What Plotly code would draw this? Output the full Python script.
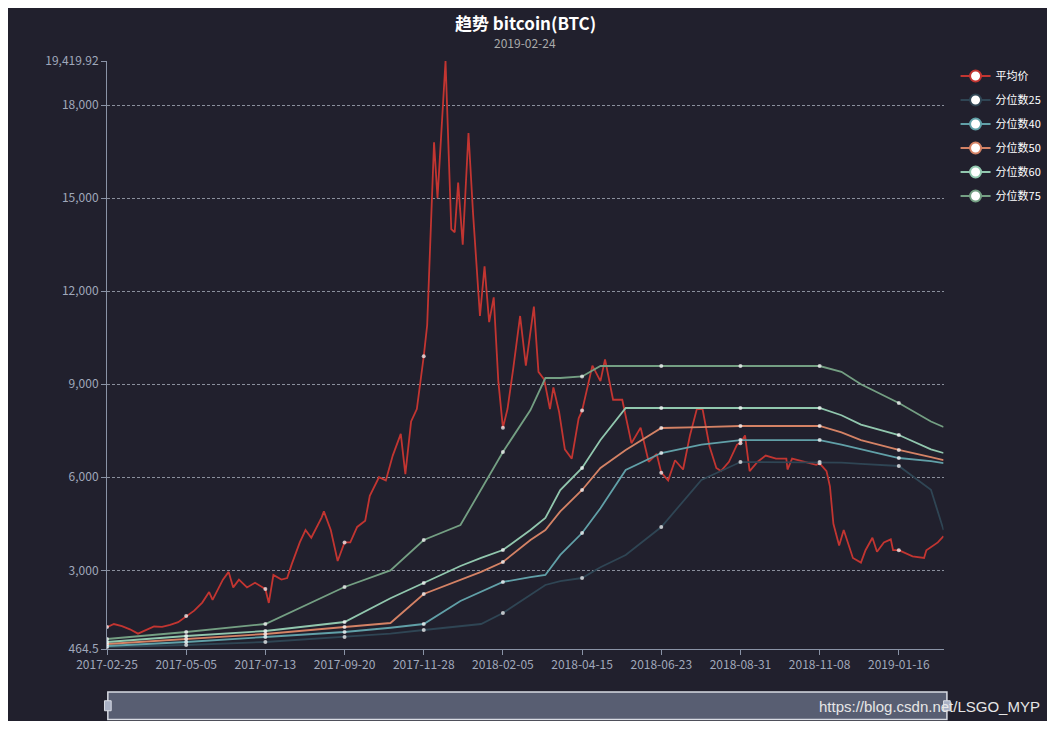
import plotly.graph_objects as go

# 平均价 (daily average price)
price_dates = [
    "2017-02-25", "2017-03-03", "2017-03-10", "2017-03-17", "2017-03-24", "2017-03-31", "2017-04-07",
    "2017-04-14", "2017-04-21", "2017-04-28", "2017-05-05", "2017-05-12", "2017-05-19", "2017-05-25",
    "2017-05-28", "2017-06-06", "2017-06-11", "2017-06-15", "2017-06-20", "2017-06-27", "2017-07-04",
    "2017-07-13", "2017-07-16", "2017-07-20", "2017-07-27", "2017-08-01", "2017-08-05", "2017-08-12",
    "2017-08-17", "2017-08-22", "2017-08-31", "2017-09-02", "2017-09-08", "2017-09-14", "2017-09-20",
    "2017-09-25", "2017-10-01", "2017-10-08", "2017-10-12", "2017-10-20", "2017-10-26", "2017-11-01",
    "2017-11-08", "2017-11-12", "2017-11-17", "2017-11-22", "2017-11-28", "2017-12-01", "2017-12-07",
    "2017-12-10", "2017-12-17", "2017-12-22", "2017-12-25", "2017-12-28", "2018-01-01", "2018-01-06",
    "2018-01-10", "2018-01-16", "2018-01-20", "2018-01-24", "2018-01-28", "2018-02-01", "2018-02-05",
    "2018-02-09", "2018-02-14", "2018-02-20", "2018-02-25", "2018-03-04", "2018-03-08", "2018-03-13",
    "2018-03-18", "2018-03-21", "2018-03-26", "2018-03-31", "2018-04-06", "2018-04-12", "2018-04-15",
    "2018-04-24", "2018-05-01", "2018-05-05", "2018-05-12", "2018-05-20", "2018-05-28", "2018-06-05",
    "2018-06-12", "2018-06-19", "2018-06-23", "2018-06-29", "2018-07-05", "2018-07-12", "2018-07-18",
    "2018-07-24", "2018-07-29", "2018-08-04", "2018-08-10", "2018-08-14", "2018-08-21", "2018-08-28",
    "2018-08-31", "2018-09-04", "2018-09-08", "2018-09-15", "2018-09-22", "2018-10-01", "2018-10-10",
    "2018-10-11", "2018-10-15", "2018-10-25", "2018-11-05", "2018-11-08", "2018-11-14", "2018-11-17",
    "2018-11-20", "2018-11-25", "2018-11-29", "2018-12-07", "2018-12-14", "2018-12-18", "2018-12-24",
    "2018-12-28", "2019-01-03", "2019-01-09", "2019-01-11", "2019-01-16", "2019-01-28", "2019-02-07",
    "2019-02-09", "2019-02-19", "2019-02-24",
]
price = [
    1170, 1270, 1200, 1100, 960, 1080, 1190,
    1180, 1240, 1330, 1530, 1700, 1960, 2300,
    2050, 2700, 2950, 2450, 2700, 2450, 2600,
    2400, 1950, 2850, 2700, 2750, 3200, 3900,
    4300, 4050, 4700, 4900, 4300, 3300, 3900,
    3900, 4400, 4600, 5400, 6000, 5900, 6700,
    7400, 6100, 7800, 8200, 9900, 10900, 16800,
    15000, 19420, 14000, 13900, 15500, 13500, 17100,
    14500, 11200, 12800, 11000, 11800, 9100, 7600,
    8200, 9500, 11200, 9600, 11500, 9400, 9150,
    8200, 8900, 8100, 6900, 6600, 7900, 8150,
    9600, 9100, 9800, 8500, 8500, 7100, 7600,
    6500, 6750, 6150, 5900, 6550, 6250, 7350,
    8200, 8200, 7000, 6300, 6200, 6500, 7050,
    7100, 7350, 6200, 6500, 6700, 6600, 6600,
    6250, 6600, 6500, 6400, 6450, 6200, 5700,
    4500, 3800, 4300, 3400, 3250, 3650, 4050,
    3600, 3900, 4000, 3650, 3650, 3450, 3400,
    3650, 3900, 4100,
]

# quantile series share these knot dates
q_dates = [
    "2017-02-25", "2017-05-05", "2017-07-13", "2017-09-20", "2017-10-30", "2017-11-28",
    "2017-12-30", "2018-01-17", "2018-02-05", "2018-03-01", "2018-03-14", "2018-03-27",
    "2018-04-15", "2018-05-01", "2018-05-23", "2018-06-23", "2018-07-28", "2018-08-31",
    "2018-11-08", "2018-11-27", "2018-12-14", "2019-01-16", "2019-02-13", "2019-02-24",
]
q25 = [529, 593, 690, 852, 960, 1077, 1200, 1270, 1625, 2200, 2528, 2650,
       2753, 3100, 3495, 4397, 5912, 6492, 6492, 6470, 6430, 6364, 5600, 4300]
q40 = [561, 690, 852, 1012, 1150, 1270, 2012, 2300, 2625, 2780, 2850, 3500,
       4203, 5000, 6235, 6783, 7050, 7201, 7201, 7050, 6900, 6621, 6520, 6460]
q50 = [626, 787, 948, 1173, 1302, 2237, 2689, 2950, 3269, 3978, 4300, 4900,
       5590, 6300, 6880, 7589, 7620, 7653, 7653, 7450, 7200, 6880, 6650, 6557]
q60 = [690, 884, 1045, 1335, 2100, 2592, 3140, 3400, 3656, 4300, 4687, 5590,
       6300, 7201, 8233, 8233, 8233, 8233, 8233, 8000, 7700, 7363, 6900, 6783]
q75 = [787, 1012, 1270, 2463, 3000, 3978, 4461, 5590, 6815, 8169, 9200, 9200,
       9250, 9587, 9587, 9587, 9587, 9587, 9587, 9400, 9000, 8395, 7800, 7621]

marker_dates = {"2017-02-25", "2017-05-05", "2017-07-13", "2017-09-20", "2017-11-28", "2018-02-05",
                "2018-04-15", "2018-06-23", "2018-08-31", "2018-11-08", "2019-01-16"}

tick_dates = ["2017-02-25", "2017-05-05", "2017-07-13", "2017-09-20", "2017-11-28", "2018-02-05",
              "2018-04-15", "2018-06-23", "2018-08-31", "2018-11-08", "2019-01-16"]
y_ticks = [464.5, 3000, 6000, 9000, 12000, 15000, 18000, 19419.92]
y_labels = ["464.5", "3,000", "6,000", "9,000", "12,000", "15,000", "18,000", "19,419.92"]

series = [
    ("平均价", price_dates, price, "#c23531"),
    ("分位数25", q_dates, q25, "#2f4554"),
    ("分位数40", q_dates, q40, "#61a0a8"),
    ("分位数50", q_dates, q50, "#d48265"),
    ("分位数60", q_dates, q60, "#91c7ae"),
    ("分位数75", q_dates, q75, "#749f83"),
]

fig = go.Figure()
for name, xs, ys, color in series:
    sizes = [4 if d in marker_dates else 0 for d in xs]
    fig.add_trace(go.Scatter(
        x=xs, y=ys, name=name, mode="lines+markers", showlegend=False, legendgroup=name,
        line=dict(color=color, width=1.8),
        marker=dict(size=sizes, color="white", line=dict(width=0)),
    ))
    # legend symbol
    fig.add_trace(go.Scatter(
        x=[None], y=[None], name=name, mode="lines+markers", legendgroup=name,
        line=dict(color=color, width=1.8),
        marker=dict(size=11, color="white", line=dict(color=color, width=2)),
    ))

fig.update_layout(
    width=1039, height=713,
    paper_bgcolor="#21202d", plot_bgcolor="#21202d",
    margin=dict(l=99, r=99, t=53, b=72),
    font=dict(family="Noto Sans CJK SC, sans-serif", color="#cccccc", size=12),
    legend=dict(xref="container", yref="container", x=0.912, y=0.925, xanchor="left", yanchor="top",
                font=dict(color="white", size=11), bgcolor="rgba(0,0,0,0)",
                tracegroupgap=5, itemwidth=30),
    showlegend=True,
    xaxis=dict(range=["2017-02-25", "2019-02-24"], tickvals=tick_dates, ticktext=tick_dates,
               showgrid=False, showline=True, linecolor="#8a93a6", ticks="outside",
               tickcolor="#8a93a6", ticklen=5, tickfont=dict(color="#a0a8bb", size=12), zeroline=False),
    yaxis=dict(range=[464.5, 19419.92], tickvals=y_ticks, ticktext=y_labels,
               showgrid=True, gridcolor="#8a8f9c", griddash="3px,2px", gridwidth=0.7,
               showline=True, linecolor="#8a93a6", ticks="outside", tickcolor="#8a93a6",
               ticklen=5, tickfont=dict(color="#a0a8bb", size=12), zeroline=False),
    shapes=[
        dict(type="rect", xref="paper", yref="paper", x0=0.001, x1=1.004, y0=-0.12, y1=-0.073,
             fillcolor="#585e72", line=dict(color="#d8dbe3", width=1.5)),
        dict(type="rect", xref="paper", yref="paper", x0=-0.003, x1=0.005, y0=-0.105, y1=-0.088,
             fillcolor="#a8b0c4", line=dict(color="#d8dbe3", width=1)),
        dict(type="rect", xref="paper", yref="paper", x0=1.0, x1=1.008, y0=-0.105, y1=-0.088,
             fillcolor="#a8b0c4", line=dict(color="#d8dbe3", width=1)),
    ],
    annotations=[
        dict(text="<b>趋势 bitcoin(BTC)</b>", xref="paper", yref="paper", x=0.5, y=1.066,
             xanchor="center", yanchor="middle", showarrow=False,
             font=dict(size=17, color="white")),
        dict(text="2019-02-24", xref="paper", yref="paper", x=0.5, y=1.032,
             xanchor="center", yanchor="middle", showarrow=False,
             font=dict(size=12, color="#aaaaaa")),
        dict(text="https://blog.csdn.net/LSGO_MYP", xref="paper", yref="paper", x=1.118, y=-0.097,
             xanchor="right", yanchor="middle", showarrow=False,
             font=dict(family="Liberation Sans, sans-serif", size=15, color="#e6e6e6")),
    ],
)

fig.write_html("out.html")
